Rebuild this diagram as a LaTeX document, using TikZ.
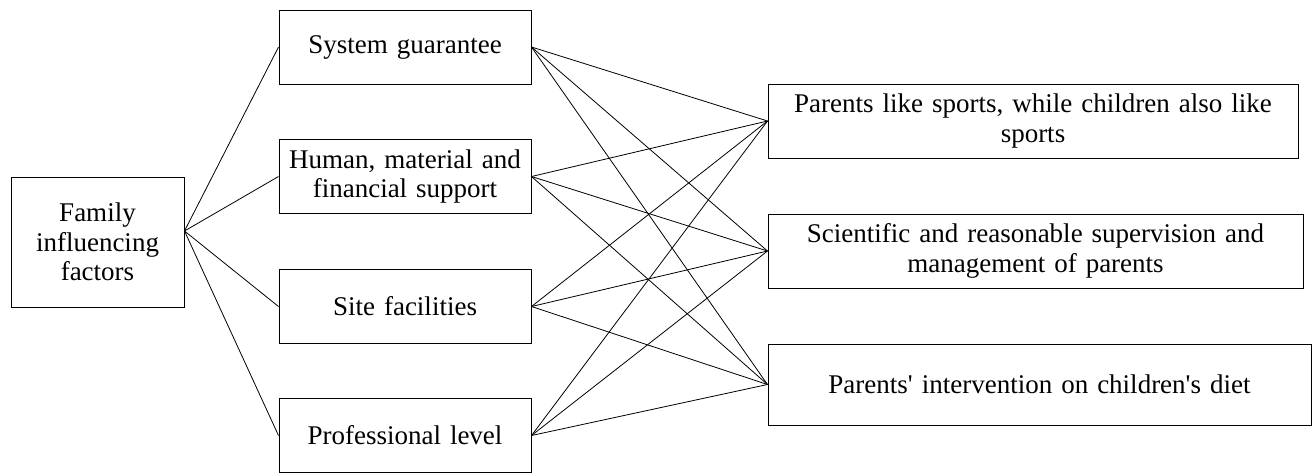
\documentclass[tikz,border=0pt]{standalone}
\usepackage{fontspec}
\setmainfont{Liberation Serif}

\begin{document}
\begin{tikzpicture}[
  x=1pt,y=-1pt,
  font=\fontsize{27}{29.5}\selectfont,
  box/.style={draw,line width=1pt,align=center,inner sep=4pt},
  factorbox/.style={box,minimum width=252pt,minimum height=74pt,text width=240pt},
  effectbox/.style={box,minimum height=74pt,text width=500pt},
  link/.style={line width=0.8pt},
]
\useasboundingbox (0,0) rectangle (1312,472);
\node[box,minimum width=173pt,minimum height=130pt,text width=150pt] (family) at (97.5,242) {Family\\influencing\\factors};
\coordinate (familyport) at ([yshift=11pt]family.east);

\node[factorbox] (system) at (405,47) {System guarantee};
\node[factorbox] (support) at (405,176.5) {Human, material and\\financial support};
\node[factorbox] (site) at (405,306.5) {Site facilities};
\node[factorbox] (level) at (405,435.5) {Professional level};

\node[effectbox,minimum width=530pt] (sports) at (1033,121) {Parents like sports, while children also like\\sports};
\node[effectbox,minimum width=535pt] (supervision) at (1035.5,251) {Scientific and reasonable supervision and\\management of parents};
\node[effectbox,minimum width=543pt,minimum height=81pt] (diet) at (1039.5,384.5) {Parents\textquotesingle{} intervention on children\textquotesingle{}s diet};

\foreach \f in {system,support,site,level}{
  \draw[link] (familyport) -- (\f.west);
  \foreach \e in {sports,supervision,diet}
    \draw[link] (\f.east) -- (\e.west);
}
\end{tikzpicture}
\end{document}
